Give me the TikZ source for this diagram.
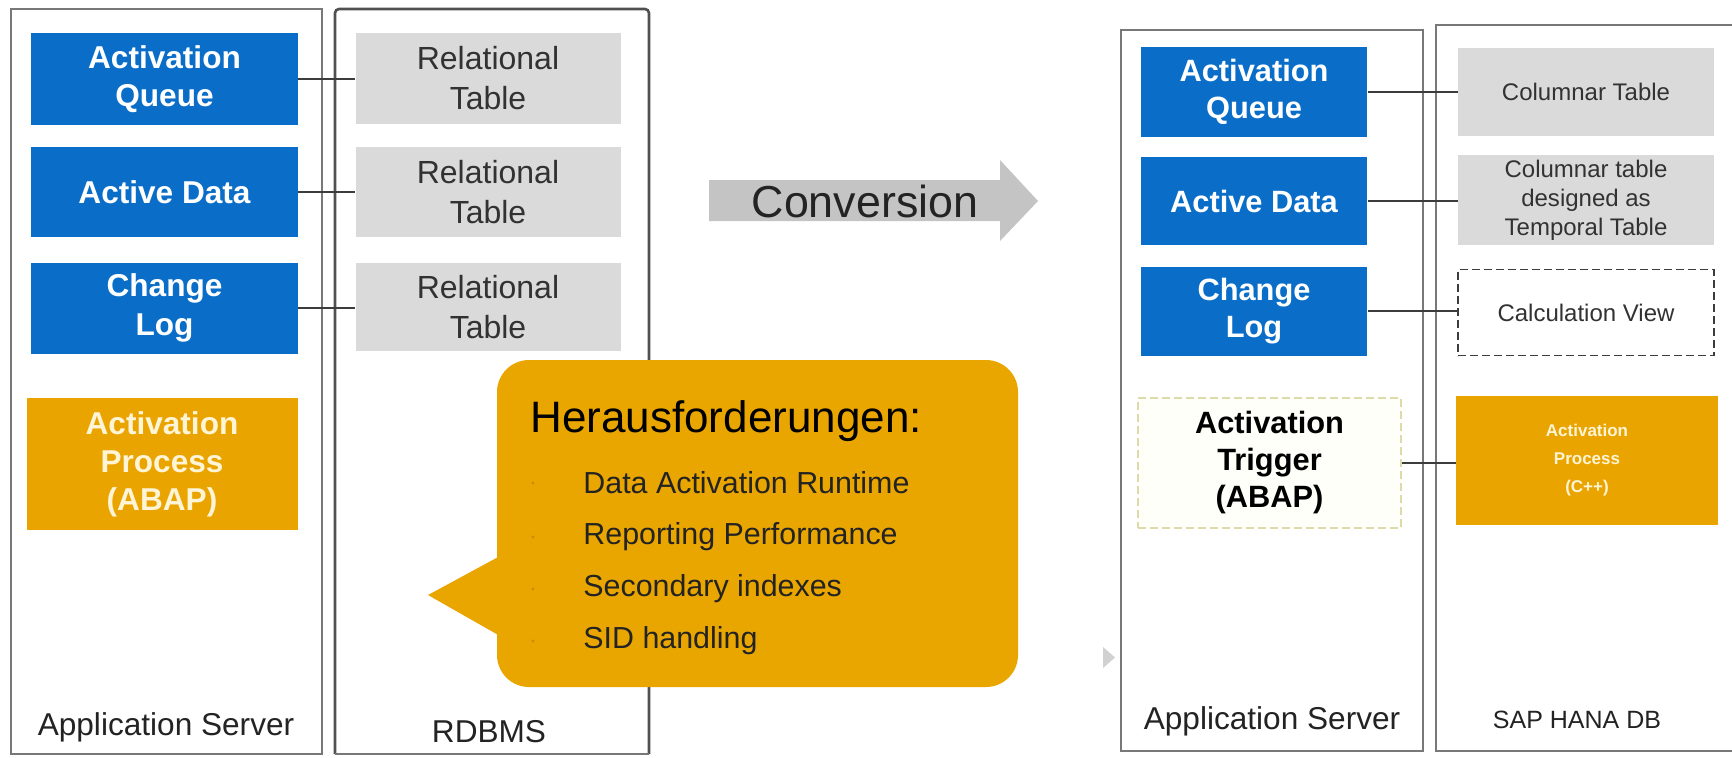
\documentclass[tikz,border=0pt]{standalone}
\usepackage{fontspec}
\setmainfont{Liberation Sans}
\definecolor{sapblue}{RGB}{10,110,200}
\definecolor{saporange}{RGB}{233,164,0}
\definecolor{calloutorange}{RGB}{234,166,0}
\definecolor{boxgray}{RGB}{218,218,218}
\definecolor{arrowgray}{RGB}{196,196,196}
\definecolor{framegray}{RGB}{120,120,120}
\definecolor{framedark}{RGB}{80,80,80}
\definecolor{txtdark}{RGB}{35,35,35}
\definecolor{txtgray}{RGB}{50,50,50}
\definecolor{paletxt}{RGB}{255,244,214}
\definecolor{linkgray}{RGB}{60,60,60}
\definecolor{trigborder}{RGB}{222,218,170}
\definecolor{trigfill}{RGB}{255,255,250}
\definecolor{dotcol}{RGB}{200,140,0}
\begin{document}
\begin{tikzpicture}[x=0.5pt,y=-0.5pt,
  bluebox/.style={rectangle, inner sep=0pt, fill=sapblue, text=white, align=center,
    font=\bfseries\fontsize{15.8}{19.3}\selectfont},
  bluebox2/.style={bluebox, font=\bfseries\fontsize{15.4}{18.2}\selectfont},
  graybox/.style={rectangle, inner sep=0pt, fill=boxgray, text=txtgray, align=center,
    font=\fontsize{16}{20}\selectfont},
  graybox2/.style={graybox, font=\fontsize{12}{14.6}\selectfont},
  orangebox/.style={rectangle, inner sep=0pt, fill=saporange, text=paletxt, align=center,
    font=\bfseries\fontsize{15.8}{19}\selectfont},
  link/.style={draw=linkgray, line width=0.75pt},
  frame/.style={draw=framegray, line width=1pt},
  caption/.style={text=txtdark, inner sep=0pt, font=\fontsize{15.8}{18}\selectfont},
  item/.style={anchor=west, inner sep=0pt, text=txtdark, font=\fontsize{15.2}{18}\selectfont},
  bulletdot/.style={circle, fill=dotcol, inner sep=0pt, minimum size=1.6pt},
]
\useasboundingbox (0,0) rectangle (1732,757);
\fill[white] (0,0) rectangle (1732,757);

% ---------------- left side ----------------
\draw[frame] (11,9) rectangle (322,754);
\draw[draw=framedark, line width=1.3pt, rounded corners=2pt] (335,754) -- (335,9) -- (649,9) -- (649,754);
\draw[draw=framegray, line width=1pt] (335,754) -- (649,754);

\node[bluebox, minimum width=133.5pt, minimum height=46pt] (aq) at (164.5,79) {Activation\\Queue};
\node[bluebox, minimum width=133.5pt, minimum height=45pt] (ad) at (164.5,192) {Active Data};
\node[bluebox, minimum width=133.5pt, minimum height=45.5pt] (cl) at (164.5,308) {Change\\Log};
\node[orangebox, minimum width=135.5pt, minimum height=66pt] (ap) at (162,464) {Activation\\Process\\(ABAP)};

\node[graybox, minimum width=132.5pt, minimum height=45.5pt] (r1) at (488,78.5) {Relational\\Table};
\node[graybox, minimum width=132.5pt, minimum height=45pt] (r2) at (488,192) {Relational\\Table};
\node[graybox, minimum width=132.5pt, minimum height=44pt] (r3) at (488,307) {Relational\\Table};

\draw[link] (aq.east) -- (aq.east -| r1.west);
\draw[link] (ad.east) -- (ad.east -| r2.west);
\draw[link] (cl.east) -- (cl.east -| r3.west);

\node[caption] (asl) at (166,727) {Application Server};
\node[caption] (rdb) at (489,732) {RDBMS};

% callout
\node[rectangle, fill=calloutorange, rounded corners=16pt, minimum width=260.5pt,
      minimum height=163.5pt, inner sep=0pt] (callout) at (757.5,523.5) {};
\fill[calloutorange] (500,556) -- (428,595) -- (500,636) -- cycle;
\node[anchor=west, inner sep=0pt, text=black, font=\fontsize{22}{26}\selectfont] (hf) at (530,421) {Herausforderungen:};
\node[bulletdot] (b1) at (533,483) {};
\node[bulletdot] (b2) at (533,537) {};
\node[bulletdot] (b3) at (533,589) {};
\node[bulletdot] (b4) at (533,641) {};
\node[item] (i1) at (583,483) {Data Activation Runtime};
\node[item] (i2) at (583,537) {Reporting Performance};
\node[item] (i3) at (583,589) {Secondary indexes};
\node[item] (i4) at (583,641) {SID handling};

% conversion arrow
\fill[arrowgray] (709,180) -- (1000,180) -- (1000,160) -- (1038,201) -- (1000,241) -- (1000,221) -- (709,221) -- cycle;
\node[inner sep=0pt, text=txtdark, font=\fontsize{22.4}{26}\selectfont] (conv) at (865,201) {Conversion};

% ---------------- right side ----------------
\draw[frame] (1121,30) rectangle (1423,751);
\draw[frame] (1745,25) -- (1436,25) -- (1436,751) -- (1745,751);

\node[bluebox2, minimum width=113.25pt, minimum height=44.75pt] (aq2) at (1254,92) {Activation\\Queue};
\node[bluebox2, minimum width=113.25pt, minimum height=44pt] (ad2) at (1254,201) {Active Data};
\node[bluebox2, minimum width=113.25pt, minimum height=44.5pt] (cl2) at (1254,311) {Change\\Log};
\node[rectangle, inner sep=0pt, fill=trigfill, draw=trigborder, line width=0.8pt,
      dash pattern=on 4pt off 2pt, text=black, align=center,
      font=\bfseries\fontsize{15.4}{18.5}\selectfont,
      minimum width=131.5pt, minimum height=65pt] (trig) at (1269.5,463) {Activation\\Trigger\\(ABAP)};

\node[graybox2, minimum width=128pt, minimum height=44.25pt] (ct) at (1586,92) {Columnar Table};
\node[graybox2, minimum width=128pt, minimum height=45pt] (ctt) at (1586,200) {Columnar table\\designed as\\Temporal Table};
\node[graybox2, fill=white, draw=linkgray, line width=0.8pt, dash pattern=on 4pt off 2pt,
      minimum width=128pt, minimum height=43pt] (cv) at (1586,312.6) {Calculation View};
\node[orangebox, font=\bfseries\fontsize{8.5}{13.8}\selectfont,
      minimum width=131pt, minimum height=64.5pt] (ap2) at (1587,460) {Activation\\Process\\(C++)};

\draw[link] (aq2.east) -- (aq2.east -| ct.west);
\draw[link] (ad2.east) -- (ad2.east -| ctt.west);
\draw[link] (cl2.east) -- (cl2.east -| cv.west);
\draw[link] (trig.east) -- (trig.east -| ap2.west);

\node[caption] (asr) at (1272,721) {Application Server};
\node[caption, font=\fontsize{12.5}{15}\selectfont] (hana) at (1577,720) {SAP HANA DB};

\fill[black!18] (1103,647) -- (1115,657.5) -- (1103,668) -- cycle;
\end{tikzpicture}
\end{document}
